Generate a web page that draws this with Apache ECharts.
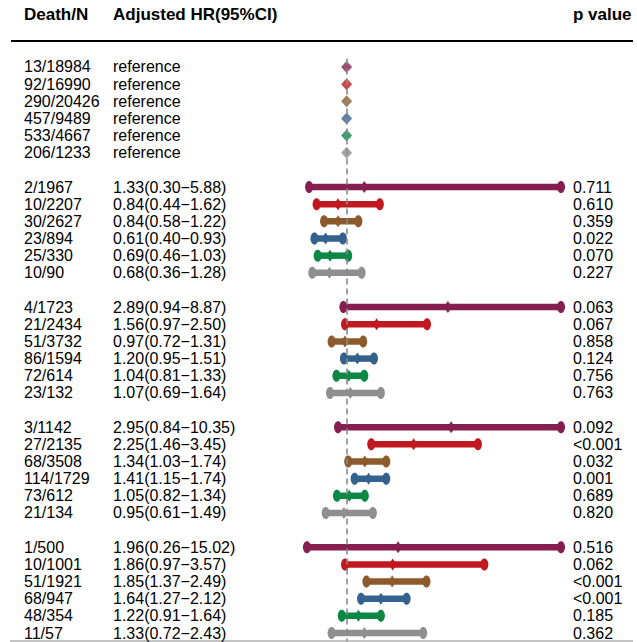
<!DOCTYPE html>
<html>
<head>
<meta charset="utf-8">
<script src="https://cdn.jsdelivr.net/npm/echarts@6/dist/echarts.min.js"></script>
<style>
html,body{margin:0;padding:0;background:#fff;}
#chart{width:637px;height:642px;}
</style>
</head>
<body>
<div id="chart"></div>
<script>
// ---------- data ----------
const headers = ["Death/N", "Adjusted HR(95%CI)", "p value"];
const refDeaths = ["13/18984", "92/16990", "290/20426", "457/9489", "533/4667", "206/1233"];
const deaths = [
  ["2/1967", "10/2207", "30/2627", "23/894", "25/330", "10/90"],
  ["4/1723", "21/2434", "51/3732", "86/1594", "72/614", "23/132"],
  ["3/1142", "27/2135", "68/3508", "114/1729", "73/612", "21/134"],
  ["1/500", "10/1001", "51/1921", "68/947", "48/354", "11/57"]
];
const hrs = [
  [1.33, 0.84, 0.84, 0.61, 0.69, 0.68],
  [2.89, 1.56, 0.97, 1.20, 1.04, 1.07],
  [2.95, 2.25, 1.34, 1.41, 1.05, 0.95],
  [1.96, 1.86, 1.85, 1.64, 1.22, 1.33]
];
const lows = [
  [0.30, 0.44, 0.58, 0.40, 0.46, 0.36],
  [0.94, 0.97, 0.72, 0.95, 0.81, 0.69],
  [0.84, 1.46, 1.03, 1.15, 0.82, 0.61],
  [0.26, 0.97, 1.37, 1.27, 0.91, 0.72]
];
const highs = [
  [5.88, 1.62, 1.22, 0.93, 1.03, 1.28],
  [8.87, 2.50, 1.31, 1.51, 1.33, 1.64],
  [10.35, 3.45, 1.74, 1.74, 1.34, 1.49],
  [15.02, 3.57, 2.49, 2.12, 1.64, 2.43]
];
const pvals = [
  ["0.711", "0.610", "0.359", "0.022", "0.070", "0.227"],
  ["0.063", "0.067", "0.858", "0.124", "0.756", "0.763"],
  ["0.092", "<0.001", "0.032", "0.001", "0.689", "0.820"],
  ["0.516", "0.062", "<0.001", "<0.001", "0.185", "0.362"]
];
const refHR = 1;
const X_MIN = 0, X_MAX = 5;

// ---------- styling ----------
const COLORS = ["#861f50", "#c1191f", "#8c5a2b", "#33628e", "#0d8745", "#8f8f8f"];
const FONT = "'Liberation Sans', Arial, sans-serif";

// ---------- build rows (with blank spacer slots between groups) ----------
const slots = [];
const leftA = [], leftB = [], rightP = [];
const refData = [];
const ciData = [];
let s = 0;
refDeaths.forEach((d, i) => {
  slots.push('s' + s); leftA.push(d); leftB.push('reference'); rightP.push('');
  refData.push({value: [refHR, s], itemStyle: {color: COLORS[i]}});
  s++;
});
const fmt = v => v.toFixed(2);
deaths.forEach((grp, g) => {
  slots.push('s' + s); leftA.push(''); leftB.push(''); rightP.push(''); s++;
  grp.forEach((d, i) => {
    slots.push('s' + s);
    leftA.push(d);
    leftB.push(fmt(hrs[g][i]) + '(' + fmt(lows[g][i]) + '\u2212' + fmt(highs[g][i]) + ')');
    rightP.push(pvals[g][i]);
    ciData.push([lows[g][i], highs[g][i], hrs[g][i], s, i]);
    s++;
  });
});

const chart = echarts.init(document.getElementById('chart'), null, {renderer: 'svg'});

const option = {
  animation: false,
  backgroundColor: '#fff',
  grid: {left: 293, right: 76, top: 58.4, bottom: 0.4, containLabel: false},
  xAxis: {type: 'value', min: X_MIN, max: X_MAX, show: false},
  yAxis: [
    {
      type: 'category', data: slots, inverse: true,
      axisLine: {show: false}, axisTick: {show: false}, splitLine: {show: false},
      axisLabel: {
        interval: 0, align: 'left', margin: 269,
        formatter: (v, idx) => leftA[idx] || leftB[idx] ? '{a|' + leftA[idx] + '}{b|' + leftB[idx] + '}' : '',
        rich: {
          a: {width: 89, fontSize: 16, fontFamily: FONT, color: '#000'},
          b: {fontSize: 16, fontFamily: FONT, color: '#000'}
        }
      }
    },
    {
      type: 'category', data: slots, inverse: true, position: 'right',
      axisLine: {show: false}, axisTick: {show: false}, splitLine: {show: false},
      axisLabel: {
        interval: 0, align: 'left', margin: 12,
        fontSize: 16, fontFamily: FONT, color: '#000',
        formatter: (v, idx) => rightP[idx]
      }
    }
  ],
  graphic: [
    {type: 'text', left: 24, top: 6, style: {text: headers[0], font: 'bold 17px ' + FONT, fill: '#000'}},
    {type: 'text', left: 113, top: 6, style: {text: headers[1], font: 'bold 17px ' + FONT, fill: '#000'}},
    {type: 'text', left: 573, top: 6, style: {text: headers[2], font: 'bold 17px ' + FONT, fill: '#000'}},
    {type: 'line', shape: {x1: 11, y1: 41, x2: 633, y2: 41}, style: {stroke: '#000', lineWidth: 2}},
    {type: 'line', shape: {x1: 10, y1: 641, x2: 633, y2: 641}, style: {stroke: '#8a8a8a', lineWidth: 1}}
  ],
  series: [
    {
      type: 'scatter', data: [], z: 1,
      markLine: {
        silent: true, symbol: 'none', label: {show: false},
        lineStyle: {color: '#8a8a8a', type: [6, 4], width: 1.6},
        data: [{xAxis: refHR}]
      }
    },
    {
      type: 'scatter', z: 3, symbol: 'diamond', symbolSize: [11, 12],
      data: refData
    },
    {
      type: 'custom', z: 3,
      encode: {x: [0, 1, 2], y: 3},
      data: ciData,
      renderItem: function (params, api) {
        const lo = Math.max(api.value(0), X_MIN);
        const hi = Math.min(api.value(1), X_MAX);
        const hr = api.value(2);
        const slot = api.value(3);
        const c = COLORS[api.value(4)];
        const p1 = api.coord([lo, slot]);
        const p2 = api.coord([hi, slot]);
        const pm = api.coord([hr, slot]);
        return {
          type: 'group',
          children: [
            {type: 'line', shape: {x1: p1[0], y1: p1[1], x2: p2[0], y2: p2[1]}, style: {stroke: c, lineWidth: 6.5}},
            {type: 'ellipse', shape: {cx: p1[0], cy: p1[1], rx: 4, ry: 6}, style: {fill: c}},
            {type: 'ellipse', shape: {cx: p2[0], cy: p2[1], rx: 4, ry: 6}, style: {fill: c}},
            {type: 'polygon', shape: {points: [[pm[0], pm[1] - 6], [pm[0] + 4, pm[1]], [pm[0], pm[1] + 6], [pm[0] - 4, pm[1]]]}, style: {fill: c}}
          ]
        };
      }
    }
  ]
};
chart.setOption(option);
</script>
</body>
</html>
